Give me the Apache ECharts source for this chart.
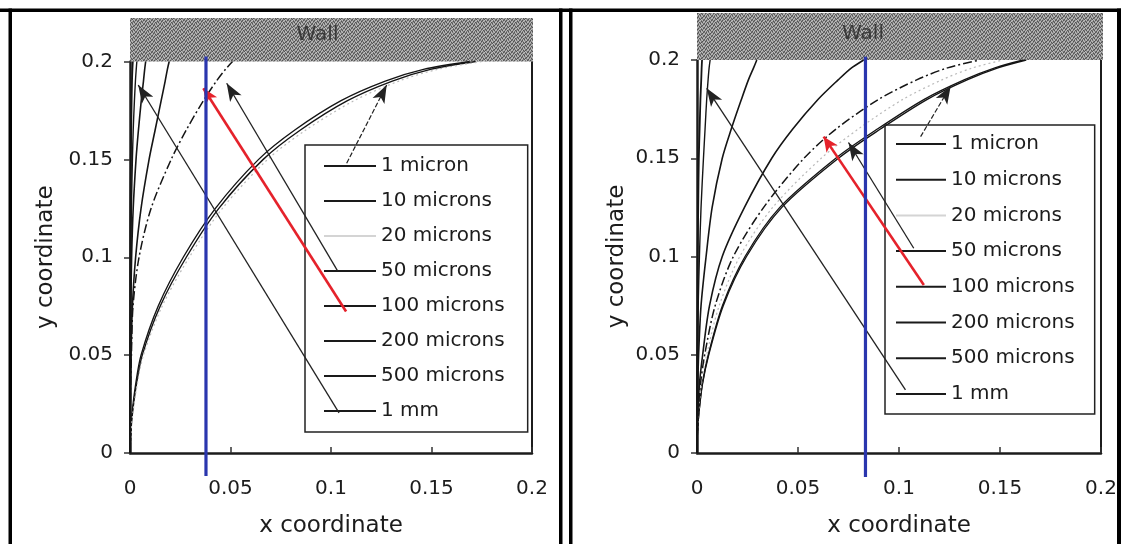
<!DOCTYPE html>
<html><head><meta charset="utf-8">
<script src="https://cdn.jsdelivr.net/npm/echarts@6/dist/echarts.min.js"></script>
<style>html,body{margin:0;padding:0;background:#fff}#c{width:1121px;height:544px}</style>
</head><body><div id="c"></div>
<script>
// ---------- data ----------
const legendNames = ['1 micron','10 microns','20 microns','50 microns','100 microns','200 microns','500 microns','1 mm'];
const xTicks = [0, 0.05, 0.1, 0.15, 0.2];
const yLevels = [0, 0.01, 0.02, 0.035, 0.05, 0.075, 0.1, 0.125, 0.15, 0.165, 0.18, 0.19, 0.196, 0.2];

// left panel: x position of each trajectory at yLevels
const L_1micron   = [0, 0.0003, 0.0010, 0.0028, 0.0055, 0.0140, 0.0265, 0.0425, 0.0640, 0.0820, 0.1050, 0.1270, 0.1460, 0.1690];
const L_10microns = [0, 0.0004, 0.0012, 0.0032, 0.0061, 0.0150, 0.0280, 0.0442, 0.0663, 0.0848, 0.1082, 0.1305, 0.1495, 0.1720];
const L_20microns = [0, 0.0005, 0.0014, 0.0036, 0.0067, 0.0160, 0.0295, 0.0460, 0.0685, 0.0875, 0.1115, 0.1338, 0.1530, 0.1750];
const L_50microns = [0, 0.0000, 0.0001, 0.0003, 0.0007, 0.0015, 0.0045, 0.0105, 0.0205, 0.0280, 0.0365, 0.0430, 0.0475, 0.0510];
const L_100microns= [0, 0.0000, 0.0001, 0.0002, 0.0005, 0.0012, 0.0028, 0.0055, 0.0095, 0.0125, 0.0155, 0.0175, 0.0186, 0.0195];
const L_200microns= [0, 0.0000, 0.0000, 0.0001, 0.0002, 0.0004, 0.0008, 0.0016, 0.0030, 0.0042, 0.0056, 0.0067, 0.0073, 0.0078];
const L_500microns= [0, 0.0000, 0.0000, 0.0000, 0.0001, 0.0002, 0.0003, 0.0007, 0.0012, 0.0016, 0.0022, 0.0027, 0.0031, 0.0034];
const L_1mm       = [0, 0.0000, 0.0000, 0.0000, 0.0000, 0.0001, 0.0001, 0.0002, 0.0004, 0.0006, 0.0008, 0.0010, 0.0012, 0.0014];

// right panel
const R_1micron   = [0, 0.0002, 0.0009, 0.0027, 0.0058, 0.0130, 0.0245, 0.0420, 0.0700, 0.0910, 0.1140, 0.1340, 0.1490, 0.1630];
const R_10microns = [0, 0.0002, 0.0009, 0.0026, 0.0056, 0.0126, 0.0238, 0.0410, 0.0687, 0.0895, 0.1125, 0.1325, 0.1475, 0.1615];
const R_20microns = [0, 0.0002, 0.0007, 0.0022, 0.0048, 0.0110, 0.0212, 0.0375, 0.0615, 0.0800, 0.1020, 0.1215, 0.1365, 0.1515];
const R_50microns = [0, 0.0001, 0.0005, 0.0017, 0.0038, 0.0090, 0.0180, 0.0330, 0.0530, 0.0690, 0.0900, 0.1090, 0.1240, 0.1400];
const R_100microns= [0, 0.0001, 0.0004, 0.0012, 0.0028, 0.0062, 0.0125, 0.0235, 0.0370, 0.0475, 0.0600, 0.0700, 0.0765, 0.0825];
const R_200microns= [0, 0.0000, 0.0001, 0.0004, 0.0008, 0.0020, 0.0045, 0.0075, 0.0125, 0.0170, 0.0220, 0.0255, 0.0280, 0.0296];
const R_500microns= [0, 0.0000, 0.0000, 0.0001, 0.0002, 0.0006, 0.0012, 0.0020, 0.0032, 0.0040, 0.0048, 0.0055, 0.0060, 0.0065];
const R_1mm       = [0, 0.0000, 0.0000, 0.0000, 0.0001, 0.0002, 0.0003, 0.0006, 0.0009, 0.0013, 0.0017, 0.0021, 0.0023, 0.0025];

// annotation arrows: [tail, tip]
const L_arrow1micron = [[0.1078, 0.1480], [0.1277, 0.1880]];
const L_arrow50      = [[0.1032, 0.0932], [0.0481, 0.1889]];
const L_arrow1mm     = [[0.1040, 0.0205], [0.0041, 0.1880]];
const L_arrowRed     = [[0.1075, 0.0723], [0.0365, 0.1863]];
const L_blue         = [[0.0378, -0.0117], [0.0378, 0.2025]];

const R_arrow1micron = [[0.1107, 0.1610], [0.1256, 0.1868]];
const R_arrow50      = [[0.1073, 0.1042], [0.0750, 0.1580]];
const R_arrow1mm     = [[0.1032, 0.0321], [0.0048, 0.1856]];
const R_arrowRed     = [[0.1123, 0.0855], [0.0627, 0.1610]];
const R_blue         = [[0.0834, -0.0122], [0.0834, 0.2017]];

const wallText = 'Wall';

// ---------- styling ----------
const FONT = 'DejaVu Sans';
const INK = '#1c1c1c';
const lineStyles = [
  {color:'#151515', width:1.4, type:'solid'},
  {color:'#151515', width:1.4, type:'solid'},
  {color:'#b9b9b9', width:1.2, type:[2,3]},
  {color:'#151515', width:1.5, type:[9,3,2,3]},
  {color:'#151515', width:1.6, type:'solid'},
  {color:'#151515', width:1.6, type:'solid'},
  {color:'#151515', width:1.4, type:'solid'},
  {color:'#151515', width:1.8, type:'solid'}
];
const legendIconColors = ['#1a1a1a','#1a1a1a','#d4d4d4','#1a1a1a','#1a1a1a','#1a1a1a','#1a1a1a','#1a1a1a'];

function pairs(xs) { return xs.map((x, i) => [x, yLevels[i]]); }

function wallPattern() {
  const c = document.createElement('canvas'); c.width = 8; c.height = 8;
  const ctx = c.getContext('2d');
  const rows = ['12031230','30123102','21302013','03210321','12023130','30132012','21301203','03120321'];
  const shades = ['#545454','#7c7c7c','#9d9d9d','#bdbdbd'];
  rows.forEach((r, y) => { for (let x = 0; x < 8; x++) { ctx.fillStyle = shades[+r[x]]; ctx.fillRect(x, y, 1, 1); } });
  return c;
}
const pat = wallPattern();

const chart = echarts.init(document.getElementById('c'), null, {renderer:'canvas'});

function mainX(gridIndex) {
  return {
    gridIndex, type:'value', min:0, max:0.2, interval:0.05,
    axisLine:{onZero:false, lineStyle:{color:INK, width:2.5}},
    axisTick:{inside:true, length:6, lineStyle:{color:'#333', width:1.5}},
    axisLabel:{fontFamily:FONT, fontSize:20, color:INK, margin:26,
      formatter: v => String(xTicks.find(t => Math.abs(t - v) < 1e-9) ?? v)},
    splitLine:{show:false},
    name:'x coordinate', nameLocation:'middle', nameGap:62,
    nameTextStyle:{fontFamily:FONT, fontSize:23, color:INK}
  };
}
function mainY(gridIndex, gap) {
  return {
    gridIndex, type:'value', min:0, max:0.2, interval:0.05,
    axisLine:{show:true, onZero:false, lineStyle:{color:INK, width:2.5}},
    axisTick:{show:true, inside:false, length:6, lineStyle:{color:'#333', width:1.5}},
    axisLabel:{fontFamily:FONT, fontSize:20, color:INK, margin:17},
    splitLine:{show:false},
    name:'y coordinate', nameLocation:'middle', nameGap:gap,
    nameTextStyle:{fontFamily:FONT, fontSize:23, color:INK}
  };
}
function edgeY(gridIndex) {
  return {gridIndex, type:'value', position:'right', min:0, max:0.2,
    axisLine:{show:true, onZero:false, lineStyle:{color:INK, width:2}},
    axisTick:{show:false}, axisLabel:{show:false}, splitLine:{show:false}};
}
function hiddenAxis(gridIndex, max) {
  return {gridIndex, type:'value', min:0, max, show:false, splitLine:{show:false}};
}

const leftSets = [L_1micron, L_10microns, L_20microns, L_50microns, L_100microns, L_200microns, L_500microns, L_1mm];
const rightSets = [R_1micron, R_10microns, R_20microns, R_50microns, R_100microns, R_200microns, R_500microns, R_1mm];

const series = [];
[[leftSets, 0, 0], [rightSets, 1, 2]].forEach(([sets, xi, yi]) => {
  sets.forEach((xs, i) => {
    series.push({
      name: legendNames[i], type:'line', xAxisIndex:xi, yAxisIndex:yi,
      data: pairs(xs), smooth:0.3, symbol:'none', showSymbol:false,
      lineStyle: lineStyles[i], z: 3
    });
  });
});

function arrowItem(arr, style, head) {
  return [
    {coord: arr[0], symbol:'none', lineStyle: style},
    {coord: arr[1], symbol:'arrow', symbolSize: head}
  ];
}
const blackArrow = {color:'#222', width:1.3, type:'solid'};
const dashArrow = {color:'#222', width:1.2, type:[5,2]};
const redArrow = {color:'#e5222b', width:2.6, type:'solid'};

function annotSeries(xi, yi, blue, a1, a50, a1mm, aRed) {
  return {
    name:'annot', type:'line', xAxisIndex:xi, yAxisIndex:yi, clip:false,
    data: blue, symbol:'none', showSymbol:false,
    lineStyle:{color:'#2a36ae', width:3.2}, z:6,
    markLine:{
      silent:true, animation:false, symbol:['none','arrow'],
      label:{show:false}, emphasis:{disabled:true},
      data:[
        arrowItem(a1, dashArrow, [10,18]),
        arrowItem(a50, blackArrow, [10,18]),
        arrowItem(a1mm, blackArrow, [10,18]),
        arrowItem(aRed, redArrow, [10,15])
      ]
    }
  };
}
series.push(annotSeries(0, 0, L_blue, L_arrow1micron, L_arrow50, L_arrow1mm, L_arrowRed));
series.push(annotSeries(1, 2, R_blue, R_arrow1micron, R_arrow50, R_arrow1mm, R_arrowRed));

function wallSeries(xi, yi, offset) {
  return {
    name:'wall', type:'line', xAxisIndex:xi, yAxisIndex:yi, data:[[0,0]],
    symbol:'none', lineStyle:{width:0}, z:1,
    markArea:{
      silent:true,
      itemStyle:{color:{image:pat, repeat:'repeat'}, opacity:1},
      label:{show:true, position:'inside', formatter:wallText, fontFamily:FONT, fontSize:20,
        color:'#3a3a3a', offset},
      data:[[{coord:[0,0]},{coord:[0.2,1]}]]
    }
  };
}
series.push(wallSeries(2, 4, [-14,-5]));
series.push(wallSeries(3, 5, [-37,-3]));

function legendCfg(left, top, gap, padding, w) {
  return {
    orient:'vertical', left, top, itemWidth:w, itemHeight:2, itemGap:gap, padding,
    icon:'rect', borderColor:'#222', borderWidth:1.5, selectedMode:false,
    textStyle:{fontFamily:FONT, fontSize:20, color:INK, lineHeight:20},
    data: legendNames.map((n, i) => ({name:n, icon:'rect', itemStyle:{color:legendIconColors[i], borderWidth:0}}))
  };
}

const rect = (x, y, w, h) => ({type:'rect', shape:{x, y, width:w, height:h}, style:{fill:'#000'}, silent:true});

chart.setOption({
  animation:false,
  backgroundColor:'#fff',
  grid:[
    {left:130, top:61.5, width:402, height:391.5},
    {left:697, top:60, width:404, height:393},
    {left:130, top:18, width:403, height:43.5},
    {left:697, top:13, width:406, height:47}
  ],
  xAxis:[mainX(0), mainX(1), hiddenAxis(2, 0.2), hiddenAxis(3, 0.2)],
  yAxis:[mainY(0, 72), edgeY(0), mainY(1, 68), edgeY(1), hiddenAxis(2, 1), hiddenAxis(3, 1)],
  legend:[
    legendCfg(305, 145, 15, [11,23,11,19], 52),
    legendCfg(885, 125, 15.7, [9,20,10,11], 50)
  ],
  series,
  graphic:[
    rect(0, 8.5, 1121, 3.5),
    rect(8.5, 8.5, 3.5, 536),
    rect(559, 8.5, 3.5, 536),
    rect(569, 8.5, 3.5, 536),
    rect(1117, 8.5, 4, 536)
  ]
});
</script></body></html>
